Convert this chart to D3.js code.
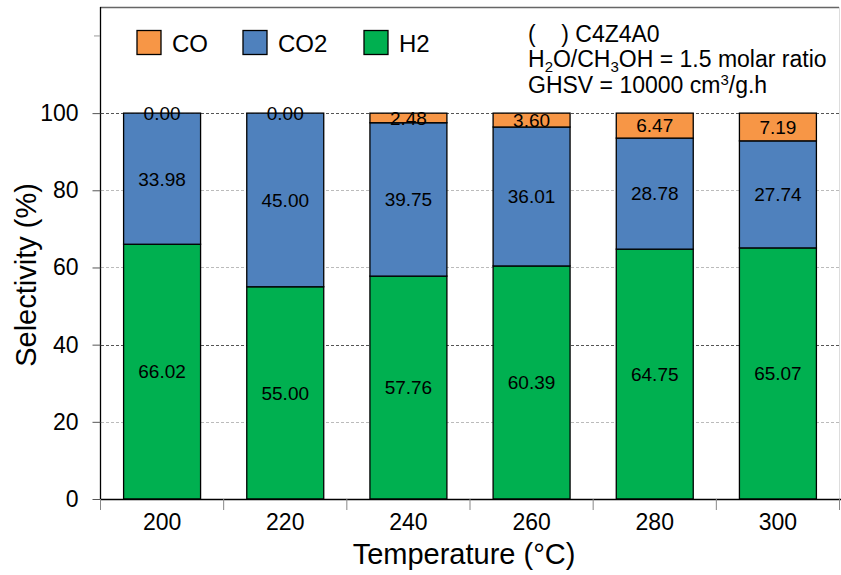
<!DOCTYPE html>
<html><head><meta charset="utf-8">
<script src="https://cdn.jsdelivr.net/npm/d3@7"></script>
<style>body{margin:0;background:#fff}svg{display:block}text{font-family:Arial,"Liberation Sans",sans-serif}</style>
</head><body><svg id="c" width="841" height="575"></svg>
<script>
const categories = ["200","220","240","260","280","300"];
const h2Values  = [66.02, 55.00, 57.76, 60.39, 64.75, 65.07];
const co2Values = [33.98, 45.00, 39.75, 36.01, 28.78, 27.74];
const coValues  = [0.00, 0.00, 2.48, 3.60, 6.47, 7.19];
const seriesNames = ["H2","CO2","CO"];
const seriesColors = {"H2":"#00B050","CO2":"#4F81BD","CO":"#F79646"};
const yTicks = [0,20,40,60,80,100];

const svg = d3.select("#c");
const x = d3.scaleBand().domain(categories).range([100.5, 839.5]).paddingInner(0.375).paddingOuter(0.1875);
const xb = d3.scaleBand().domain(categories).range([100.5, 839.5]);
const y = d3.scaleLinear().domain([0, 127.5]).range([499, 7]);

const rows = categories.map((c,i)=>({cat:c, H2:h2Values[i], CO2:co2Values[i], CO:coValues[i]}));
const stacked = d3.stack().keys(seriesNames)(rows);

// frame top/right
svg.append("line").attr("x1",100).attr("x2",839).attr("y1",7.5).attr("y2",7.5).attr("stroke","#666").attr("stroke-width",1.5);
svg.append("line").attr("x1",839.5).attr("x2",839.5).attr("y1",7).attr("y2",499).attr("stroke","#ddd").attr("stroke-width",1);

// gridlines
svg.append("g").selectAll("line").data(yTicks.filter(d=>d>0)).join("line")
  .attr("x1",101).attr("x2",839).attr("y1",d=>Math.round(y(d))+0.5).attr("y2",d=>Math.round(y(d))+0.5)
  .attr("stroke",d=>(d===40||d===100)?"#555":"#bbb").attr("stroke-width",1).attr("stroke-dasharray","3,2");

// bars
const g = svg.append("g");
stacked.forEach(s=>{
  g.append("g").selectAll("rect").data(s).join("rect")
   .attr("x",d=>x(d.data.cat)).attr("width",x.bandwidth())
   .attr("y",d=>y(d[1])).attr("height",d=>Math.max(0,y(d[0])-y(d[1])))
   .attr("fill",seriesColors[s.key]).attr("stroke","#000").attr("stroke-width",1.3);
});
// labels
stacked.forEach(s=>{
  svg.append("g").selectAll("text").data(s).join("text")
   .attr("x",d=>x(d.data.cat)+x.bandwidth()/2).attr("y",d=>y((d[0]+d[1])/2))
   .attr("dy","0.36em").attr("text-anchor","middle").attr("font-size",19).attr("fill","#000")
   .text(d=>d.data[s.key].toFixed(2));
});

// y axis
const ya = svg.append("g").attr("transform","translate(100.5,0)")
  .call(d3.axisLeft(y).tickValues(yTicks).tickSize(8).tickPadding(14).tickFormat(d3.format("d")));
ya.select(".domain").attr("d","M0,7V499").attr("stroke","#000").attr("stroke-width",1.3);
ya.selectAll(".tick line").attr("stroke","#555");
ya.selectAll(".tick text").attr("font-size",23).attr("fill","#000").attr("font-family","Arial,'Liberation Sans',sans-serif");
svg.append("line").attr("x1",94).attr("x2",100).attr("y1",y(120)).attr("y2",y(120)).attr("stroke","#999");

// x axis
const xa = svg.append("g").attr("transform","translate(0,499.5)")
  .call(d3.axisBottom(xb).tickSize(0).tickPadding(14));
xa.select(".domain").attr("d","M100,0H841").attr("stroke","#000").attr("stroke-width",1.3);
xa.selectAll(".tick text").attr("font-size",23).attr("fill","#000").attr("font-family","Arial,'Liberation Sans',sans-serif");
svg.append("g").selectAll("line").data(categories.concat(["end"])).join("line")
  .attr("x1",(d,i)=>i<categories.length?xb(d):xb(categories[categories.length-1])+xb.bandwidth())
  .attr("x2",(d,i)=>i<categories.length?xb(d):xb(categories[categories.length-1])+xb.bandwidth())
  .attr("y1",499).attr("y2",510).attr("stroke","#888");

// axis titles
svg.append("text").attr("x",464).attr("y",564).attr("text-anchor","middle").attr("font-size",29).text("Temperature (°C)");
svg.append("text").attr("transform","translate(36,275) rotate(-90)").attr("text-anchor","middle").attr("font-size",29).text("Selectivity (%)");

// legend
const legendOrder = ["CO","CO2","H2"];
const legendX = [137, 243, 364];
legendOrder.forEach((k,i)=>{
  svg.append("rect").attr("x",legendX[i]).attr("y",30.5).attr("width",24).attr("height",24)
    .attr("fill",seriesColors[k]).attr("stroke","#000").attr("stroke-width",1.3);
  svg.append("text").attr("x",legendX[i]+35).attr("y",52).attr("font-size",24).text(k);
});

// annotation
const ann = svg.append("g").attr("font-size",23);
ann.append("text").attr("x",528).attr("y",42).text("(\u00a0\u00a0\u00a0\u00a0) C4Z4A0");
const l2 = ann.append("text").attr("x",528).attr("y",67);
l2.append("tspan").text("H");
l2.append("tspan").attr("dy",5).attr("font-size",15).text("2");
l2.append("tspan").attr("dy",-5).text("O/CH");
l2.append("tspan").attr("dy",5).attr("font-size",15).text("3");
l2.append("tspan").attr("dy",-5).text("OH = 1.5 molar ratio");
const l3 = ann.append("text").attr("x",528).attr("y",93);
l3.append("tspan").text("GHSV = 10000 cm");
l3.append("tspan").attr("dy",-8).attr("font-size",15).text("3");
l3.append("tspan").attr("dy",8).text("/g.h");
</script></body></html>
